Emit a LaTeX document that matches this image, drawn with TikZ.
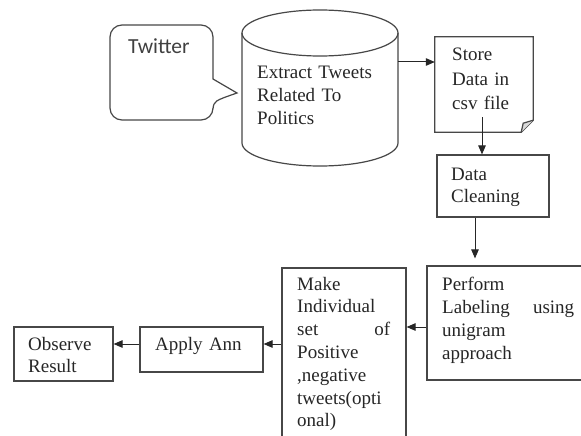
\documentclass[tikz,border=0pt]{standalone}
\usepackage{fontspec}
\setmainfont{Liberation Serif}
\newfontfamily\twfont{Carlito}
\usetikzlibrary{arrows.meta,calc}
\newcommand{\spreadline}[2]{\leavevmode\hbox to #1{#2}}
\begin{document}
\begin{tikzpicture}[x=1pt,y=-1pt,
  ln/.style={draw=black!72, line width=1.2pt},
  box/.style={ln, rectangle, inner sep=0pt},
  shp/.style={rectangle, inner sep=0pt},
  txt/.style={text=black!85, font=\fontsize{19}{23}\selectfont, align=left, anchor=base west, inner sep=0pt, text width=#1},
  arr/.style={draw=black!85, line width=1pt, -{Triangle[length=9pt,width=7.5pt]}}]
\useasboundingbox[fill=white] (0,0) rectangle (581,436);

% Twitter callout
\draw[ln] (213,66) [rounded corners=12pt] -- (213,25) -- (110,25) -- (110,120) -- (213,120) [sharp corners] -- (213,109) .. controls (214,101) .. (237,93) -- (213,79) -- cycle;
\node[anchor=base west, inner sep=0pt, text=black!75, font=\twfont\fontsize{21.5}{23}\selectfont] (tw) at (128,54) {Twitter};

% Cylinder
\node[shp, minimum width=156pt, minimum height=156pt] (cyl) at (320,88) {};
\draw[ln] (242,33) -- (242,143) arc[start angle=180, end angle=360, x radius=78pt, y radius=23pt] -- (398,33);
\draw[ln] (320,33) ellipse [x radius=78pt, y radius=23pt];
\node[txt=140pt] (cylt) at (257,78) {Extract Tweets\\Related To\\Politics};

% Store document
\node[shp, minimum width=98pt, minimum height=95pt] (store) at (484,84.5) {};
\draw[ln] (store.north west) -- (store.north east) -- ([yshift=12pt]store.south east) -- ([xshift=-12pt]store.south east) -- (store.south west) -- cycle;
\draw[ln, fill=black!15] ([xshift=-12pt]store.south east) -- ++(2pt,9pt) -- ([yshift=12pt]store.south east);
\node[txt=80pt, font=\fontsize{19}{25}\selectfont] (storet) at (452,60) {Store\\Data in\\csv file};
\coordinate (storeout) at ([shift={(-2pt,-32.5pt)}]store.center);

% Data cleaning
\node[box, minimum width=112pt, minimum height=62pt] (dc) at (493,186) {};
\node[txt=95pt, font=\fontsize{19}{22}\selectfont] (dct) at (451,180) {Data\\Cleaning};

% Perform labeling
\node[box, minimum width=173pt, minimum height=114pt] (perf) at (513.5,323) {};
\node[txt=132pt] (perft) at (442,290) {Perform\\\spreadline{132pt}{Labeling\hfill using}\\unigram\\approach};

% Make individual set
\node[box, minimum width=124pt, minimum height=192pt] (make) at (344,364) {};
\node[txt=100pt, font=\fontsize{19}{22.8}\selectfont] (maket) at (297,290) {Make\\Individual\\\spreadline{93pt}{set\hfill of}\\Positive\\,negative\\tweets(opti\\onal)};

% Apply Ann
\node[box, minimum width=123pt, minimum height=45pt] (apply) at (201.5,349.5) {};
\node[txt=100pt] (applyt) at (155,350) {Apply Ann};

% Observe result
\node[box, minimum width=99pt, minimum height=54pt] (obs) at (63.5,354) {};
\node[txt=85pt, font=\fontsize{19}{22}\selectfont] (obst) at (28,350) {Observe\\Result};

% Connectors
\draw[arr] ([yshift=26pt]cyl.east) -- ([yshift=26pt]cyl.east -| store.west);
\draw[arr] (storeout) -- (storeout |- dc.north);
\draw[arr, shorten >=7pt] ([xshift=-18pt]dc.south) -- ([xshift=-18pt]dc.south |- perf.north);
\draw[arr] ([yshift=-4pt]perf.west) -- ([yshift=-4pt]perf.west -| make.east);
\draw[arr] ([yshift=5.5pt]apply.east -| make.west) -- ([yshift=5.5pt]apply.east);
\draw[arr] ([yshift=5.5pt]apply.west) -- ([yshift=5.5pt]apply.west -| obs.east);
\end{tikzpicture}
\end{document}
